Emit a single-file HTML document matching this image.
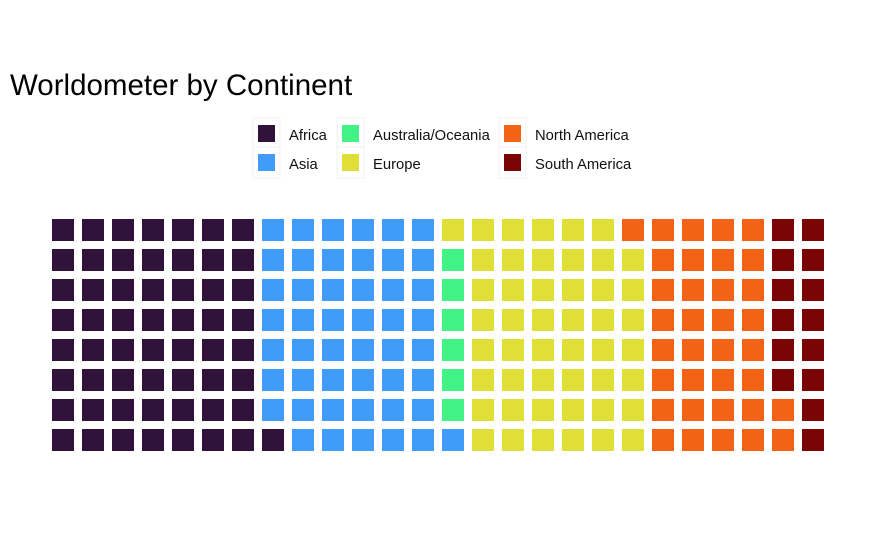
<!DOCTYPE html>
<html><head><meta charset="utf-8"><style>
body{margin:0;background:#fff;font-family:"Liberation Sans",sans-serif}
#c{position:relative;width:875px;height:540px;overflow:hidden}
</style></head><body>
<div id="c">
<svg id="s" width="875" height="540">
<text x="10" y="95" font-size="29.5" fill="#000">Worldometer by Continent</text>
<g id="legend"></g>
<g id="cells"></g>
</svg>
</div>
<script>
const categories = ["Africa","Asia","Australia/Oceania","Europe","North America","South America"];
const counts = [57,48,6,48,35,14];
const colors = ["#30123b","#409bf9","#42f285","#e0df38","#f26316","#7a0403"];
const NS="http://www.w3.org/2000/svg";
const rows=8, x0=52, y0=219, step=30, size=22;
const cells=document.getElementById('cells');
let idx=0;
categories.forEach((cat,ci)=>{
  for(let k=0;k<counts[ci];k++){
    const col=Math.floor(idx/rows), r=idx%rows;
    const rect=document.createElementNS(NS,'rect');
    rect.setAttribute('x',x0+col*step);
    rect.setAttribute('y',y0+(rows-1-r)*step);
    rect.setAttribute('width',size);
    rect.setAttribute('height',size);
    rect.setAttribute('fill',colors[ci]);
    
    
    cells.appendChild(rect);
    idx++;
  }
});
const legend=document.getElementById('legend');
const lx=[258,342,504], ly=[125,154];
categories.forEach((cat,i)=>{
  const c=Math.floor(i/2), r=i%2;
  const g=document.createElementNS(NS,'g');
  
  
  const bg=document.createElementNS(NS,'rect');
  bg.setAttribute('x',lx[c]-5);bg.setAttribute('y',ly[r]-7);
  bg.setAttribute('width',27);bg.setAttribute('height',31);
  bg.setAttribute('fill','#fff');bg.setAttribute('stroke','#f0f0f0');
  g.appendChild(bg);
  const sq=document.createElementNS(NS,'rect');
  sq.setAttribute('x',lx[c]);sq.setAttribute('y',ly[r]);
  sq.setAttribute('width',17);sq.setAttribute('height',17);
  sq.setAttribute('fill',colors[i]);
  g.appendChild(sq);
  const t=document.createElementNS(NS,'text');
  t.setAttribute('x',lx[c]+31);t.setAttribute('y',ly[r]+15);
  t.setAttribute('font-size','14.8');t.setAttribute('fill','#111');
  t.textContent=cat;
  g.appendChild(t);
  legend.appendChild(g);
});
</script>
</body></html>
